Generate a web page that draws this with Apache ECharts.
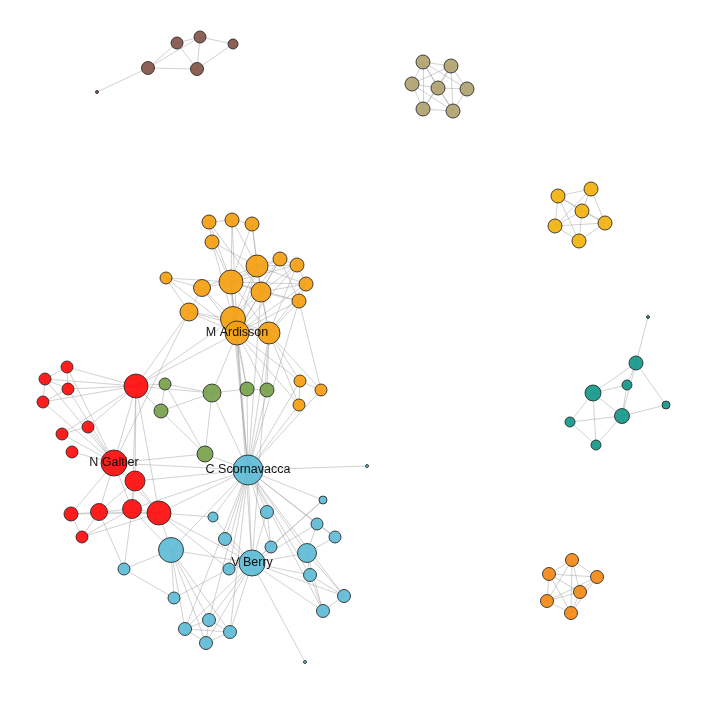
<!DOCTYPE html>
<html>
<head>
<meta charset="utf-8">
<script src="https://cdn.jsdelivr.net/npm/echarts@6/dist/echarts.min.js"></script>
<style>html,body{margin:0;padding:0;background:#fff}#c{width:705px;height:705px}</style>
</head>
<body>
<div id="c"></div>
<script>
// Node ids, layout coordinates (layout space 0..705), weight (node importance), community group
const nodeIds = [
  'k1','k2','k3','k4','k5','k6',
  'h1','h2','h3','h4','h5','h6','h7',
  'y1','y2','y3','y4','y5','y6',
  't1','t2','t3','t4','t5','t6','t7','t8',
  'p1','p2','p3','p4','p5','p6',
  'o1','o2','o3','o4','o5','o6','o7','o8','o9','o10','o11','o12','o13','o14','o15','MA','o16','o17','o18','o19',
  'g1','g2','g3','g4','g5','g6',
  'r1','r2','r3','r4','r5','r6','r7','r8','NG','r9','r10','r11','r12','r13','r14',
  'CS','b0','b1','b2','b3','b4','b5','b6','b7','b8','b9','VB','b10','b11','b12','b13','b14','b15','b16','b17','b18','b19','b20'
];
const nodeX = [
  177,200,233,148,197,97,
  423,451,412,438,467,423,453,
  558,591,582,555,605,579,
  648,636,627,593,666,622,570,596,
  572,549,597,580,547,571,
  209,232,252,212,166,202,231,257,280,297,261,306,299,189,233,237,269,300,321,299,
  165,212,247,267,161,205,
  67,45,68,43,136,88,62,72,114,135,71,99,132,159,82,
  248,367,323,213,267,317,335,225,271,171,307,252,229,124,310,344,174,323,209,185,230,206,305
];
const nodeY = [
  43,37,44,68,69,92,
  62,66,84,88,89,109,111,
  196,189,211,226,223,241,
  317,363,385,393,405,416,422,445,
  560,574,577,592,601,613,
  222,220,224,242,278,288,282,266,259,265,292,284,301,312,319,333,333,381,390,405,
  384,393,389,390,411,454,
  367,379,389,402,386,427,434,452,463,481,514,512,509,513,537,
  470,466,500,517,512,524,537,539,547,550,553,563,569,569,575,596,598,611,620,629,632,643,662
];
const nodeWeight = [
  6,6,5,6.5,6.5,1.5,
  7,7,7,7,7,7,7,
  7,7,7,7,7,7,
  1.5,7,5,8,4,7.5,5,5,
  6.5,6.5,6.5,6.5,6.5,6.5,
  7,7,7,7,6,8.5,12,11,7,7,10,7,7,9,12.5,12,11,6,6,6,
  6,9,7,7,7,8,
  6,6,6,6,12,6,6,6,13,10,7,8.5,9.5,12,6,
  15,1.5,4,5,6.5,6,6,6.5,6,12.5,9.5,13,6,6,6.5,6.5,6,6.5,6.5,6.5,6.5,6.5,1.5
];
const nodeGroup = [
  'brown','brown','brown','brown','brown','brown',
  'khaki','khaki','khaki','khaki','khaki','khaki','khaki',
  'yellow','yellow','yellow','yellow','yellow','yellow',
  'teal','teal','teal','teal','teal','teal','teal','teal',
  'orange2','orange2','orange2','orange2','orange2','orange2',
  'orange','orange','orange','orange','orange','orange','orange','orange','orange','orange','orange','orange','orange','orange','orange','orange','orange','orange','orange','orange',
  'green','green','green','green','green','green',
  'red','red','red','red','red','red','red','red','red','red','red','red','red','red','red',
  'blue','blue','blue','blue','blue','blue','blue','blue','blue','blue','blue','blue','blue','blue','blue','blue','blue','blue','blue','blue','blue','blue','blue'
];
const nodeLabels = { MA: 'M Ardisson', NG: 'N Galtier', CS: 'C Scornavacca', VB: 'V Berry' };

const linkPairs = [
  // brown
  ['k4','k1'],['k4','k2'],['k1','k2'],['k1','k5'],['k2','k5'],['k2','k3'],['k3','k5'],['k4','k5'],['k4','k6'],
  // khaki
  ['h1','h2'],['h1','h3'],['h1','h4'],['h1','h6'],['h1','h7'],['h2','h4'],['h2','h5'],['h2','h3'],['h3','h4'],['h3','h6'],
  ['h4','h5'],['h4','h6'],['h4','h7'],['h5','h7'],['h6','h7'],['h2','h6'],['h1','h5'],['h3','h7'],['h2','h7'],
  // yellow
  ['y1','y2'],['y1','y3'],['y1','y4'],['y1','y5'],['y1','y6'],['y2','y3'],['y2','y4'],['y2','y5'],['y3','y4'],['y3','y5'],
  ['y3','y6'],['y4','y5'],['y4','y6'],['y5','y6'],
  // teal
  ['t1','t2'],['t2','t4'],['t2','t3'],['t2','t6'],['t2','t5'],['t4','t3'],['t4','t6'],['t4','t7'],['t4','t8'],['t6','t5'],
  ['t6','t7'],['t6','t8'],['t7','t8'],['t3','t6'],
  // orange2
  ['p1','p2'],['p1','p3'],['p1','p4'],['p1','p5'],['p1','p6'],['p2','p3'],['p2','p4'],['p2','p5'],['p2','p6'],['p3','p4'],
  ['p3','p5'],['p3','p6'],['p4','p5'],['p4','p6'],['p5','p6'],
  // orange main
  ['o1','o2'],['o2','o3'],['o1','o4'],['o4','o7'],['o1','o7'],['o2','o7'],['o3','o7'],['o3','o8'],['o2','o8'],['o4','o8'],
  ['o1','o11'],['o3','o11'],['o4','MA'],['o2','MA'],
  ['o5','o6'],['o5','o7'],['o5','o14'],['o5','MA'],
  ['o6','o7'],['o6','o14'],['o6','MA'],['o6','o15'],['o6','o8'],
  ['o7','o8'],['o7','o11'],['o7','o15'],['o7','MA'],['o7','o16'],['o7','o9'],['o7','o10'],['o7','o12'],['o7','o13'],
  ['o8','o9'],['o8','o11'],['o8','o15'],['o8','MA'],['o8','o16'],['o8','o10'],['o8','o12'],
  ['o9','o10'],['o9','o11'],['o9','o13'],['o9','o15'],['o9','MA'],
  ['o10','o12'],['o10','o11'],['o10','o16'],['o10','MA'],
  ['o11','o12'],['o11','o13'],['o11','o16'],['o11','MA'],['o11','o15'],
  ['o12','o13'],['o12','MA'],['o12','o16'],['o13','o16'],['o13','MA'],
  ['o14','o15'],['o14','MA'],['o14','o16'],['o15','MA'],['o15','o16'],['MA','o16'],
  ['o14','r5'],['MA','r5'],['o15','r5'],['o14','NG'],
  ['MA','g2'],['MA','g3'],['MA','g4'],['o16','g4'],['o15','g3'],
  ['MA','CS'],['o15','CS'],['o16','CS'],['o11','CS'],['o7','CS'],['o13','CS'],
  ['MA','o17'],['o16','o17'],['o16','o18'],['o16','o19'],['MA','o19'],['o13','o18'],
  ['o17','o18'],['o17','o19'],['o17','CS'],['o18','CS'],['o19','CS'],['o16','VB'],['MA','VB'],
  // green
  ['g1','r5'],['g1','g2'],['g1','g5'],['g5','r5'],['g5','g2'],['g5','g6'],['g2','g3'],['g3','g4'],['g2','g6'],
  ['g2','CS'],['g3','CS'],['g4','CS'],['g6','CS'],['g2','r5'],['g1','g6'],['g6','NG'],
  // red
  ['r1','r2'],['r1','r3'],['r1','r5'],['r2','r3'],['r2','r4'],['r3','r4'],['r3','r5'],['r4','r5'],['r2','r5'],
  ['r1','NG'],['r2','NG'],['r3','NG'],['r4','NG'],
  ['r6','NG'],['r7','NG'],['r8','NG'],['r6','r5'],['r7','r5'],['r6','r7'],
  ['NG','r5'],['NG','r9'],['NG','r10'],['NG','r11'],['NG','r12'],['NG','r13'],['NG','CS'],
  ['r9','r12'],['r9','r13'],['r9','CS'],['r9','r11'],['r9','r5'],
  ['r10','r11'],['r10','r14'],['r11','r12'],['r11','r14'],['r11','r13'],['r12','r13'],['r12','r14'],['r13','r14'],['r10','r13'],
  ['r13','b8'],['r12','b8'],['r13','CS'],['r13','VB'],['r13','b2'],['r12','CS'],['r5','r12'],['r5','r13'],
  ['r11','b11'],['r12','b11'],['r13','b10'],
  // blue
  ['CS','b0'],['CS','b1'],['CS','b2'],['CS','b3'],['CS','b4'],['CS','b5'],['CS','b6'],['CS','b7'],['CS','b8'],['CS','b9'],
  ['CS','VB'],['CS','b10'],['CS','b12'],['CS','b13'],['CS','b15'],['CS','b16'],['CS','b17'],['CS','b18'],
  ['VB','b2'],['VB','b3'],['VB','b6'],['VB','b7'],['VB','b8'],['VB','b9'],['VB','b10'],['VB','b12'],['VB','b13'],
  ['VB','b15'],['VB','b16'],['VB','b17'],['VB','b18'],['VB','b19'],['VB','b20'],['VB','b4'],['VB','b1'],
  ['b8','b11'],['b8','b14'],['b8','b16'],['b8','b17'],['b8','b18'],['b8','b19'],
  ['b11','b14'],['b14','b10'],
  ['b16','b17'],['b16','b18'],['b17','b19'],['b18','b19'],['b17','b18'],['b16','b19'],
  ['b9','b4'],['b9','b5'],['b9','b12'],['b9','b15'],['b9','b13'],['b12','b15'],['b12','b13'],['b13','b15'],['b4','b5'],
  ['b1','b7'],['b3','b7']
];

const groupColors = {
  brown: '#845548', khaki: '#b0a473', yellow: '#f2b10f', teal: '#14998a', orange2: '#f48a17',
  orange: '#f49f12', green: '#78a34c', red: '#ff0d0d', blue: '#5fbcd6'
};

const data = nodeIds.map((id, i) => ({
  name: id,
  value: [nodeX[i], nodeY[i]],
  symbolSize: nodeWeight[i] * 2,
  itemStyle: { color: groupColors[nodeGroup[i]] },
  label: nodeLabels[id] ? { show: true, formatter: nodeLabels[id] } : { show: false }
}));
const links = linkPairs.map(p => ({ source: p[0], target: p[1] }));

const chart = echarts.init(document.getElementById('c'), null, { renderer: 'canvas' });
chart.setOption({
  backgroundColor: '#ffffff',
  animation: false,
  grid: { left: 0, right: 0, top: 0, bottom: 0 },
  xAxis: { type: 'value', min: 0, max: 705, show: false },
  yAxis: { type: 'value', min: 0, max: 705, inverse: true, show: false },
  series: [{
    type: 'graph',
    coordinateSystem: 'cartesian2d',
    layout: 'none',
    data: data,
    links: links,
    symbol: 'circle',
    itemStyle: { borderColor: '#222', borderWidth: 0.9, opacity: 0.93 },
    lineStyle: { color: '#9a9a9a', width: 1, opacity: 0.45, curveness: 0 },
    label: { position: 'inside', color: '#000', fontSize: 12.5, fontFamily: 'Liberation Sans, Arial, sans-serif' },
    emphasis: { disabled: true },
    silent: true
  }]
});
</script>
</body>
</html>
